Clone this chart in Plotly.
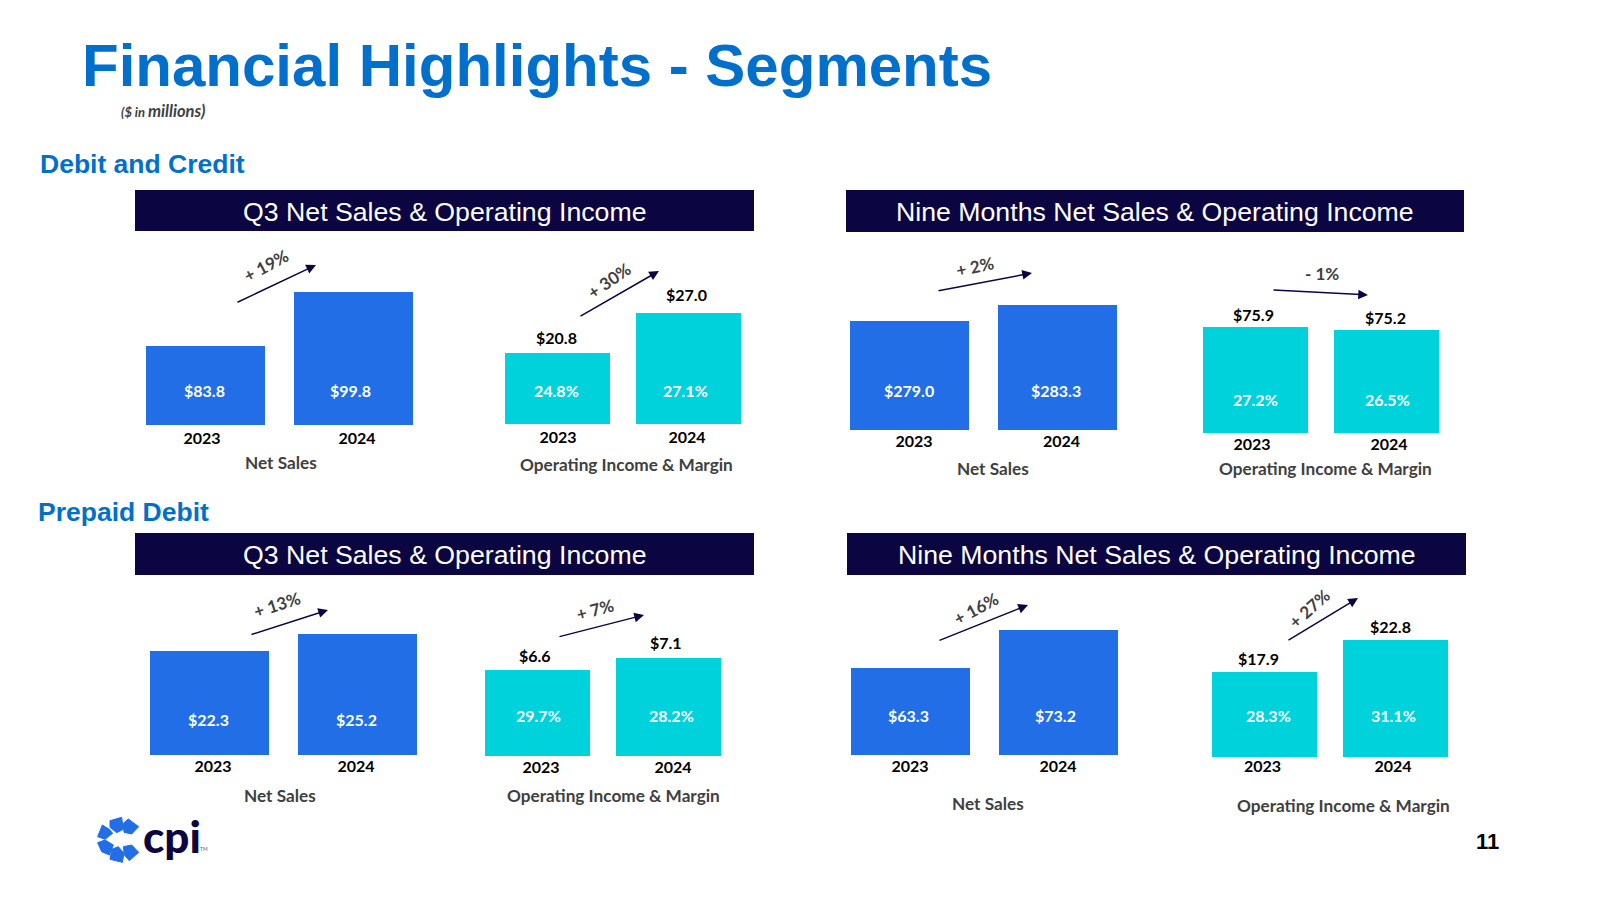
import plotly.graph_objects as go

# ---------- data ----------
years = ["2023", "2024"]
dc_q3_sales = [83.8, 99.8]
dc_q3_income = [20.8, 27.0]
dc_q3_margin = ["24.8%", "27.1%"]
dc_9m_sales = [279.0, 283.3]
dc_9m_income = [75.9, 75.2]
dc_9m_margin = ["27.2%", "26.5%"]
pd_q3_sales = [22.3, 25.2]
pd_q3_income = [6.6, 7.1]
pd_q3_margin = ["29.7%", "28.2%"]
pd_9m_sales = [63.3, 73.2]
pd_9m_income = [17.9, 22.8]
pd_9m_margin = ["28.3%", "31.1%"]
changes = ["+ 19%", "+ 30%", "+ 2%", "- 1%", "+ 13%", "+ 7%", "+ 16%", "+ 27%"]
panel_names = ["Net Sales", "Operating Income & Margin"]
bar_index = [0, 1]

NAVY = "#0B0542"
BLUE = "#216EE6"
TEAL = "#00D2DC"
HEAD = "#0070CC"
GREY = "#404040"
BODY = "Lato, Carlito, sans-serif"
ARIAL = "Liberation Sans, Arial, sans-serif"
W, H = 1600, 900


def fx(x):
    return x / W


def fy(y):
    return 1 - y / H


# ---------- layout of each panel (pixels / axis calibration, no data) ----------
panels = [
    dict(vals=dc_q3_sales, inside=None, left=(145, 293), bw=119, base=425, floor=60.4, ppu=3.375, stand=2, tickdx=(-2.5, 4.5), iny=391, inx=(0, -2), top=(0, 0), topx=(0, 0),
         tail=(236, 303), head=(316, 265), ch=(266, 265), ang=-28, cap=(281, 462)),
    dict(vals=dc_q3_income, inside=dc_q3_margin, left=(505, 636), bw=105, base=424, floor=9.8, ppu=6.45, stand=2, tickdx=(0.5, -1.5), iny=391, inx=(-1, -3), top=(16, 19), topx=(-1, -2),
         tail=(579, 317), head=(659, 271), ch=(609, 280), ang=-35, cap=(626, 464)),
    dict(vals=dc_9m_sales, inside=None, left=(849, 997), bw=119, base=430, floor=249.7, ppu=3.72, stand=0, tickdx=(5.5, 5), iny=391, inx=(0, -1), top=(0, 0), topx=(0, 0),
         tail=(937, 291), head=(1032, 273), ch=(975, 266), ang=-12, cap=(993, 468)),
    dict(vals=dc_9m_income, inside=dc_9m_margin, left=(1203, 1334), bw=105, base=433, floor=51.2, ppu=4.29, stand=0, tickdx=(-3.5, 2.5), iny=399, inx=(0, 1), top=(12.5, 13), topx=(-2, -1),
         tail=(1272, 290), head=(1368, 295), ch=(1322, 273), ang=0, cap=(1325, 468)),
    dict(vals=pd_q3_sales, inside=None, left=(149, 297), bw=119, base=755, floor=4.55, ppu=5.86, stand=0, tickdx=(4.5, -0.5), iny=719, inx=(0, 0), top=(0, 0), topx=(0, 0),
         tail=(250, 635), head=(328, 610), ch=(277, 604), ang=-18, cap=(280, 795)),
    dict(vals=pd_q3_income, inside=pd_q3_margin, left=(485, 616), bw=105, base=756, floor=3.09, ppu=24.5, stand=0, tickdx=(3.5, 4.5), iny=715, inx=(1, 3), top=(14.5, 15), topx=(-3, -3),
         tail=(558, 637), head=(644, 615), ch=(595, 609), ang=-15, cap=(613, 795)),
    dict(vals=pd_9m_sales, inside=None, left=(850, 998), bw=119, base=755, floor=40.6, ppu=3.84, stand=0, tickdx=(0.5, 0.5), iny=715, inx=(-1, -2), top=(0, 0), topx=(0, 0),
         tail=(938, 641), head=(1028, 605), ch=(976, 608), ang=-28, cap=(988, 803)),
    dict(vals=pd_9m_income, inside=pd_9m_margin, left=(1212, 1343), bw=105, base=757, floor=4.85, ppu=6.53, stand=-2, tickdx=(-2, -2.5), iny=715, inx=(4, -2), top=(13.5, 13.5), topx=(-6, -5),
         tail=(1287, 641), head=(1358, 598), ch=(1309, 608), ang=-42, cap=(1343, 805)),
]
PANEL_TOP = 240

fig = go.Figure()
ann = []
shapes = []
layout_axes = {}


def text(x, y, s, size, color, family=BODY, anchor="center", angle=0, **font):
    ann.append(dict(xref="paper", yref="paper", x=fx(x), y=fy(y), text=s, showarrow=False,
                    xanchor=anchor, yanchor="middle", textangle=angle,
                    font=dict(size=size, color=color, family=family, **font)))


for i, p in enumerate(panels):
    n = i + 1
    suffix = "" if n == 1 else str(n)
    spacing = p["left"][1] - p["left"][0]
    centre1 = p["left"][0] + p["bw"] / 2
    dom_left = centre1 - spacing / 2
    dom_right = dom_left + 2 * spacing
    is_income = p["inside"] is not None
    fig.add_trace(go.Bar(x=bar_index, y=p["vals"], xaxis="x" + suffix, yaxis="y" + suffix,
                         marker=dict(color=TEAL if is_income else BLUE, line=dict(width=0)),
                         width=p["bw"] / spacing, hovertext=years, hoverinfo="text+y"))
    layout_axes["xaxis" + suffix] = dict(
        domain=[fx(dom_left), fx(dom_right)], anchor="y" + suffix, type="linear",
        range=[-0.5, 1.5], showgrid=False, zeroline=False, showline=False, ticks="",
        tickmode="array", tickvals=[k + d / spacing for k, d in zip(bar_index, p["tickdx"])], ticktext=years,
        ticklabelstandoff=p["stand"],
        tickfont=dict(family=BODY, size=16, color="#000000", weight="bold"))
    layout_axes["yaxis" + suffix] = dict(
        domain=[fy(p["base"]), fy(PANEL_TOP)], anchor="x" + suffix, visible=False,
        range=[p["floor"], p["floor"] + (p["base"] - PANEL_TOP) / p["ppu"]])
    for k, v in enumerate(p["vals"]):
        money = f"${v:.1f}"
        inside = p["inside"][k] if is_income else money
        ann.append(dict(xref="x" + suffix, yref="paper", x=k, y=fy(p["iny"]), text=f"<b>{inside}</b>",
                        showarrow=False, yanchor="middle", xshift=p["inx"][k],
                        font=dict(size=16, color="#FFFFFF", family=BODY)))
        if is_income:
            ann.append(dict(xref="x" + suffix, yref="y" + suffix, x=k, y=v, text=f"<b>{money}</b>",
                            showarrow=False, yanchor="middle", yshift=p["top"][k], xshift=p["topx"][k],
                            font=dict(size=16, color="#000000", family=BODY)))
    hx, hy = p["head"]
    tx, ty = p["tail"]
    ann.append(dict(xref="paper", yref="paper", x=fx(hx), y=fy(hy), axref="pixel", ayref="pixel",
                    ax=tx - hx, ay=ty - hy, text="", showarrow=True, arrowhead=2, arrowsize=1.3,
                    arrowwidth=1.5, arrowcolor=NAVY, standoff=0))
    text(p["ch"][0], p["ch"][1], f"<b>{changes[i]}</b>", 17, GREY, angle=p["ang"])
    text(p["cap"][0], p["cap"][1], f"<b>{panel_names[1 if is_income else 0]}</b>", 17.2, GREY)

# headline texts
text(80, 65.5, "<b>Financial Highlights - Segments</b>", 60, HEAD, ARIAL, anchor="left")
text(119, 111, "<b><i>($ in <span style='font-size:16.5px'>millions)</span></i></b>", 13, GREY, anchor="left")
text(38, 164, "<b>Debit and Credit</b>", 26.5, HEAD, ARIAL, anchor="left")
text(36, 512, "<b>Prepaid Debit</b>", 26.5, HEAD, ARIAL, anchor="left")
text(1487, 841, "<b>11</b>", 22, "#000000", ARIAL)

# banners
banners = [
    (135, 754, 190, 231, 1, "Q3 Net Sales & Operating Income"),
    (846, 1464, 190, 232, 0, "Nine Months Net Sales & Operating Income"),
    (135, 754, 533, 575, 0, "Q3 Net Sales & Operating Income"),
    (847, 1466, 533, 575, 0, "Nine Months Net Sales & Operating Income"),
]
for x0, x1, y0, y1, dy, s in banners:
    shapes.append(dict(type="rect", xref="paper", yref="paper", x0=fx(x0), x1=fx(x1), y0=fy(y0), y1=fy(y1),
                       fillcolor=NAVY, line=dict(width=0), layer="below"))
    text((x0 + x1) / 2, (y0 + y1) / 2 + 0.5 + dy, s, 26.7, "#FFFFFF", ARIAL)

# logo
petals = [
    [(150, 92), (185, 82), (190, 118), (170, 128), (150, 112)],
    [(205, 87), (236, 110), (215, 132), (192, 127), (190, 100)],
    [(127, 105), (148, 118), (158, 130), (135, 148), (113, 140)],
    [(113, 158), (135, 150), (160, 165), (148, 195), (125, 185)],
    [(155, 178), (175, 170), (192, 190), (187, 217), (150, 208)],
    [(190, 170), (215, 165), (236, 187), (208, 212), (193, 195)],
]
for pet in petals:
    pts = [(fx(60 + a / 3), fy(790 + b / 3)) for a, b in pet]
    path = "M " + " L ".join(f"{a:.5f},{b:.5f}" for a, b in pts) + " Z"
    shapes.append(dict(type="path", xref="paper", yref="paper", path=path, fillcolor=BLUE,
                       line=dict(color=BLUE, width=1)))
text(172, 836, "cpi", 44, NAVY, BODY, weight=900)
text(204, 849, "TM", 5, "#666666", BODY)

fig.update_layout(width=W, height=H, margin=dict(l=0, r=0, t=0, b=0), paper_bgcolor="white",
                  plot_bgcolor="rgba(0,0,0,0)", showlegend=False, annotations=ann, shapes=shapes,
                  bargap=0, **layout_axes)
fig.write_html("out.html", config=dict(displayModeBar=False),
               post_script="document.body.style.margin='0';")
